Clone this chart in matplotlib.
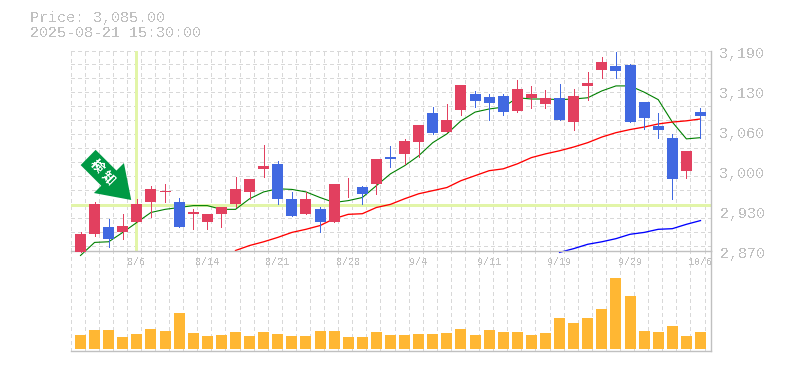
import matplotlib
matplotlib.use('Agg')
import matplotlib.pyplot as plt
import numpy as np
from matplotlib.patches import Polygon
from matplotlib.transforms import ScaledTranslation

plt.rcParams['font.family'] = ['Liberation Mono', 'Noto Sans CJK JP', 'DejaVu Sans']
plt.rcParams['text.antialiased'] = False

W, H = 785, 370

# candles, price
opens = [2868, 2896, 2908, 2899, 2915, 2948, 2964, 2948, 2928, 2915, 2929, 2944, 2964, 3000, 3008,
         2953, 2929, 2937, 2916, 2984, 2972, 2976, 3020, 3025, 3044, 3091, 3060, 3096, 3121, 3116,
         3118, 3094, 3115, 3105, 3115, 3076, 3134, 3160, 3166, 3168, 3108, 3070, 3051, 2998, 3092]
closes = [2897, 2945, 2888, 2910, 2944, 2968, 2966, 2908, 2932, 2929, 2940, 2969, 2985, 3006, 2952,
          2926, 2952, 2916, 2977, 2985, 2960, 3017, 3016, 3046, 3072, 3059, 3080, 3136, 3110, 3107,
          3092, 3129, 3121, 3115, 3080, 3118, 3139, 3172, 3158, 3076, 3083, 3064, 2984, 3030, 3085]
highs = [2900, 2947, 2921, 2928, 2953, 2974, 2977, 2955, 2937, 2929, 2940, 2988, 2985, 3040, 3014,
         2964, 2964, 2940, 2977, 2987, 2974, 3017, 3038, 3049, 3072, 3100, 3105, 3136, 3126, 3121,
         3121, 3144, 3134, 3128, 3137, 3129, 3156, 3180, 3188, 3169, 3108, 3091, 3057, 3030, 3099]
lows = [2868, 2894, 2875, 2888, 2915, 2924, 2948, 2908, 2905, 2905, 2908, 2940, 2953, 2988, 2944,
        2926, 2928, 2900, 2915, 2956, 2944, 2960, 3004, 3008, 3020, 3057, 3060, 3088, 3100, 3080,
        3088, 3092, 3099, 3099, 3080, 3064, 3112, 3147, 3147, 3076, 3065, 3051, 2952, 2987, 3051]
volumes = [14, 19, 19, 12, 15, 20, 18, 36, 16, 13, 14, 17, 13, 17, 15, 13, 13, 18, 18, 12, 12, 17, 14,
           14, 15, 15, 16, 20, 14, 19, 17, 17, 14, 16, 31, 26, 31, 40, 71, 53, 18, 17, 23, 13, 17]

# moving averages
ma_short = [2862, 2883, 2884, 2899, 2915, 2931, 2936, 2939, 2942, 2942, 2936, 2936, 2953, 2964, 2969,
            2968, 2964, 2955, 2947, 2950, 2955, 2974, 2993, 3006, 3022, 3043, 3057, 3078, 3092, 3097,
            3100, 3115, 3113, 3113, 3112, 3113, 3115, 3126, 3134, 3134, 3124, 3112, 3076, 3049, 3051]
ma_mid = [2870, 2878, 2884, 2891, 2899, 2904, 2910, 2921, 2928, 2929, 2939, 2944, 2953, 2961, 2966,
          2971, 2982, 2990, 2998, 3001, 3009, 3019, 3025, 3030, 3036, 3043, 3052, 3059, 3064, 3068,
          3073, 3076, 3078, 3081]
ma_long = [2867, 2873, 2880, 2884, 2889, 2896, 2899, 2904, 2905, 2912, 2918]

price_ticks = [3190, 3126, 3062, 2998, 2934, 2870]
price_labels = ['3,190', '3,130', '3,060', '3,000', '2,930', '2,870']
date_ticks = [4, 9, 14, 19, 24, 29, 34, 39, 44]
date_labels = ['8/6', '8/14', '8/21', '8/28', '9/4', '9/11', '9/19', '9/29', '10/6']

signal_day = 4
signal_price = 2943
arrow_tip = (3.6, 2951)

RED = '#e2405f'
BLUE = '#4169e1'
ORANGE = '#ffb733'
GRAY = '#c0c0c0'
GRID = '#d8d8d8'
HILITE = '#e2f5a8'
px = 0.72


def addAxes(left, top, right, bottom):
    return fig.add_axes([left / W, 1 - bottom / H, (right - left) / W, (bottom - top) / H])


fig = plt.figure(figsize=(W / 100, H / 100), dpi=100)
vol = addAxes(70.5, 250.5, 710.5, 350.5)
ax = addAxes(70.5, 50.5, 710.5, 250.5)
ax.patch.set_alpha(0)
vol.patch.set_alpha(0)

days = np.arange(len(closes))
xlim = (-0.71, 44.71)
grid_days = xlim[0] + np.arange(46)

for a in (ax, vol):
    a.set_xlim(xlim)
    a.set_xticks(grid_days, minor=True)
    a.grid(True, which='minor', axis='x', color=GRID, lw=px, linestyle=(0, (3, 3)), zorder=0, antialiased=False)
    a.tick_params(which='minor', length=0)
    a.set_axisbelow(True)
    for s in a.spines.values():
        s.set_visible(False)
    a.spines['bottom'].set_visible(True)
    a.spines['right'].set_visible(True)
    a.spines['bottom'].set_color(GRAY)
    a.spines['right'].set_color(GRAY)
    a.spines['bottom'].set_linewidth(1.0)
    a.spines['right'].set_linewidth(1.0)

# price panel, half a pixel of offset so bodies land on the reference rows
ax.set_ylim(2870.8, 3190.8)
ax.set_yticks(3190.8 - np.arange(15) * 22.4, minor=True)
ax.grid(True, which='minor', axis='y', color=GRID, lw=px, linestyle=(0, (3, 3)), zorder=0, antialiased=False)
ax.yaxis.tick_right()
ax.set_yticks(price_ticks, price_labels)
ax.tick_params(axis='y', which='major', length=0, pad=6.5, labelsize=10.8, labelcolor=GRAY)
ax.set_xticks(date_ticks, date_labels)
ax.tick_params(axis='x', which='major', length=0, pad=5, labelsize=7.2, labelcolor=GRAY)
shift = ScaledTranslation(0, -2 / 100, fig.dpi_scale_trans)
for lab in ax.get_yticklabels():
    lab.set_transform(lab.get_transform() + shift)

ax.axvline(signal_day - 0.03, ymin=0.005, color=HILITE, lw=3 * px, zorder=1)
ax.axhline(signal_price, color=HILITE, lw=3 * px, zorder=1)

ax.plot(days, ma_short, color='#008000', lw=0.8, clip_on=False, zorder=2)
ax.plot(days[-len(ma_mid):], ma_mid, color='#ff0000', lw=0.95, zorder=2)
ax.plot(days[-len(ma_long):], ma_long, color='#0000ff', lw=0.95, clip_on=False, zorder=2)

colors = [RED if c > o else BLUE for o, c in zip(opens, closes)]
ax.vlines(days, lows, highs, colors=colors, lw=px, clip_on=False, zorder=3, antialiased=False)
bottoms = np.minimum(opens, closes)
tops = np.maximum(opens, closes)
ax.bar(days, tops - bottoms, bottom=bottoms, width=0.78, color=colors, clip_on=False, zorder=3, antialiased=False)

# arrow outline, in pixels from the tip
shape = np.array([[-35.6, -50.3], [-14.8, -29.5], [-7.3, -37], [0, 0], [-37.3, -7], [-30, -14.3], [-50.6, -35]])
outline = np.column_stack([arrow_tip[0] + shape[:, 0] / 14.09, arrow_tip[1] - shape[:, 1] * 1.6])
ax.add_patch(Polygon(outline, closed=True, color='#009944', lw=0, zorder=4, clip_on=False))
ax.text(arrow_tip[0] - 34.5 / 14.09, arrow_tip[1] + 34 * 1.6, '検', color='white', fontsize=9.5,
        family=['Noto Sans CJK JP'], weight='bold', rotation=-45, ha='center', va='center', zorder=5)
ax.text(arrow_tip[0] - 23.5 / 14.09, arrow_tip[1] + 22.5 * 1.6, '知', color='white', fontsize=9.5,
        family=['Noto Sans CJK JP'], weight='bold', rotation=-45, ha='center', va='center', zorder=5)

# volume panel
vol.set_ylim(-2, 98)
vol.set_yticks([])
vol.set_xticks([])
vol.bar(days, volumes, width=0.78, color=ORANGE, zorder=3, antialiased=False)

fig.text(30 / W, 1 - 18 / H, 'Price: 3,085.00', color=GRAY, fontsize=10.8, va='center', ha='left')
fig.text(30 / W, 1 - 33 / H, '2025-08-21 15:30:00', color=GRAY, fontsize=10.8, va='center', ha='left')

fig.savefig('out.png', dpi=100)
